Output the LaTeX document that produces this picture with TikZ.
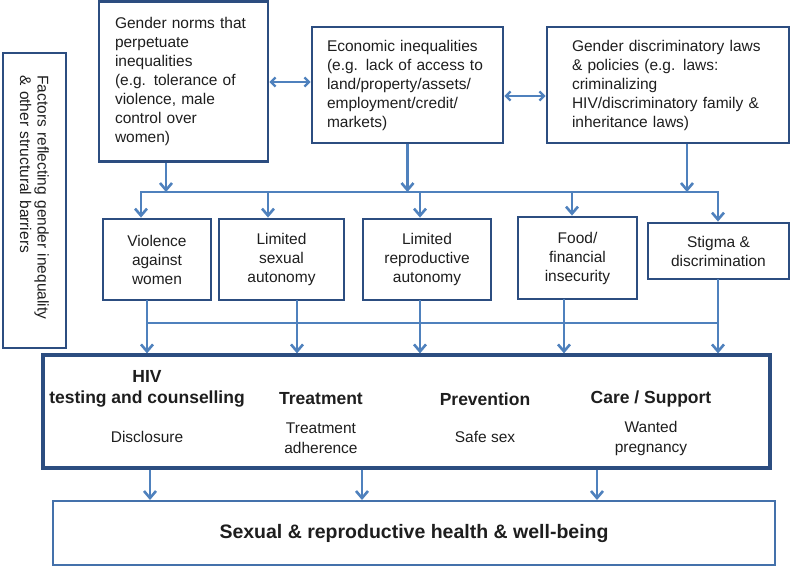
\documentclass[tikz,border=0pt]{standalone}
\usepackage{fontspec}
\setmainfont{Liberation Sans}
\usetikzlibrary{arrows.meta}
\definecolor{boxblue}{RGB}{44,77,128}
\definecolor{arrowblue}{RGB}{79,129,189}
\definecolor{txt}{RGB}{30,30,30}

\begin{document}
\begin{tikzpicture}[x=1pt,y=-1pt,
    bb/.style={draw=boxblue, line width=2.8pt, text=txt, inner sep=0pt,
               font=\fontsize{15.5}{19}\selectfont},
    cause/.style={bb, align=left},
    effect/.style={bb, align=center, minimum height=81},
    hd/.style={text=txt, align=center, font=\fontsize{17.5}{21}\selectfont\bfseries},
    sub/.style={text=txt, align=center, font=\fontsize{15.5}{20}\selectfont},
    arr/.style={draw=arrowblue, line width=2.6pt, -{Straight Barb[length=7pt,width=12pt]}},
    dbl/.style={draw=arrowblue, line width=2.3pt, {Straight Barb[length=4.5pt,width=9pt]}-{Straight Barb[length=4.5pt,width=9pt]}},
    bus/.style={draw=arrowblue, line width=2.6pt, line cap=rect}]

    \useasboundingbox (0,0) rectangle (790,566);

    % side label
    \node[bb, line width=2.3pt, rotate=-90, minimum width=295, minimum height=63, align=left,
          text width=250, font=\fontsize{15.5}{17.5}\selectfont] (factors) at (34.5,200.5)
        {Factors reflecting gender inequality\\\& other structural barriers};

    % structural factors
    \node[cause, minimum width=169, minimum height=160, text width=137] (norms) at (183.5,81.5)
        {Gender norms that\\perpetuate\\inequalities\\(e.g. tolerance of\\violence, male\\control over\\women)};
    \node[cause, minimum width=191, minimum height=116, text width=161] (econ) at (407.5,85)
        {Economic inequalities\\(e.g. lack of access to\\land/property/assets/\\employment/credit/\\markets)};
    \node[cause, minimum width=242, minimum height=116, text width=192] (laws) at (668,85)
        {Gender discriminatory laws\\\& policies (e.g. laws:\\criminalizing\\HIV/discriminatory family \&\\inheritance laws)};

    % consequences
    \node[effect, minimum width=108] (violence) at (157,259.5) {Violence\\against\\women};
    \node[effect, minimum width=125] (sexual) at (281.5,259.5) {Limited\\sexual\\autonomy};
    \node[effect, minimum width=128] (repro) at (427,259.5) {Limited\\reproductive\\autonomy};
    \node[effect, minimum width=119, minimum height=82] (food) at (577.5,258) {Food/\\financial\\insecurity};
    \node[effect, minimum width=141, minimum height=56] (stigma) at (718.5,251) {Stigma \&\\discrimination};

    % services
    \node[bb, line width=3.2pt, minimum width=727, minimum height=113] (services) at (406.5,411.5) {};
    \node[hd] (hiv) at (147,389) {HIV\\testing and counselling};
    \node[hd] (treat) at (321,399) {Treatment};
    \node[hd] (prev) at (485,399) {Prevention};
    \node[hd] (care) at (651,399) {Care / Support};
    \node[sub] (discl) at (147,437) {Disclosure};
    \node[sub] (adher) at (321,438) {Treatment\\adherence};
    \node[sub] (safe) at (485,437) {Safe sex};
    \node[sub] (wanted) at (651,438) {Wanted\\pregnancy};

    % outcome
    \node[draw=arrowblue!70!boxblue, line width=2pt, minimum width=722, minimum height=64,
          text=txt, font=\fontsize{19.5}{23}\selectfont\bfseries] (health) at (414,533)
        {Sexual \& reproductive health \& well-being};

    \coordinate (busA) at (0,192);
    \coordinate (busB) at (0,323);

    \draw[dbl] (norms.east |- econ.west) ++(0,-3) -- ([yshift=3pt]econ.west);
    \draw[dbl] ([yshift=-11pt]econ.east) -- ([yshift=-11pt]laws.west);

    \draw[arr] (norms.south -| 166,0) -- (busA -| 166,0);
    \draw[arr] (econ.south) -- (busA -| econ.south);
    \draw[arr] (laws.south -| 687,0) -- (busA -| 687,0);
    \draw[bus] (busA -| 141,0) -- (busA -| 718,0);
    \draw[bus] (busB -| 147,0) -- (busB -| 718,0);

    \foreach \n/\xa/\xb in {violence/141/147, sexual/268/297, repro/420/420, food/572/564, stigma/718/718} {
        \draw[arr] (busA -| \xa,0) -- (\n.north -| \xa,0);
        \draw[bus] (\n.south -| \xb,0) -- (busB -| \xb,0);
        \draw[arr] (busB -| \xb,0) -- (services.north -| \xb,0);
    }

    \foreach \xc in {150,362,597}
        \draw[arr] (services.south -| \xc,0) -- (health.north -| \xc,0);
\end{tikzpicture}
\end{document}
